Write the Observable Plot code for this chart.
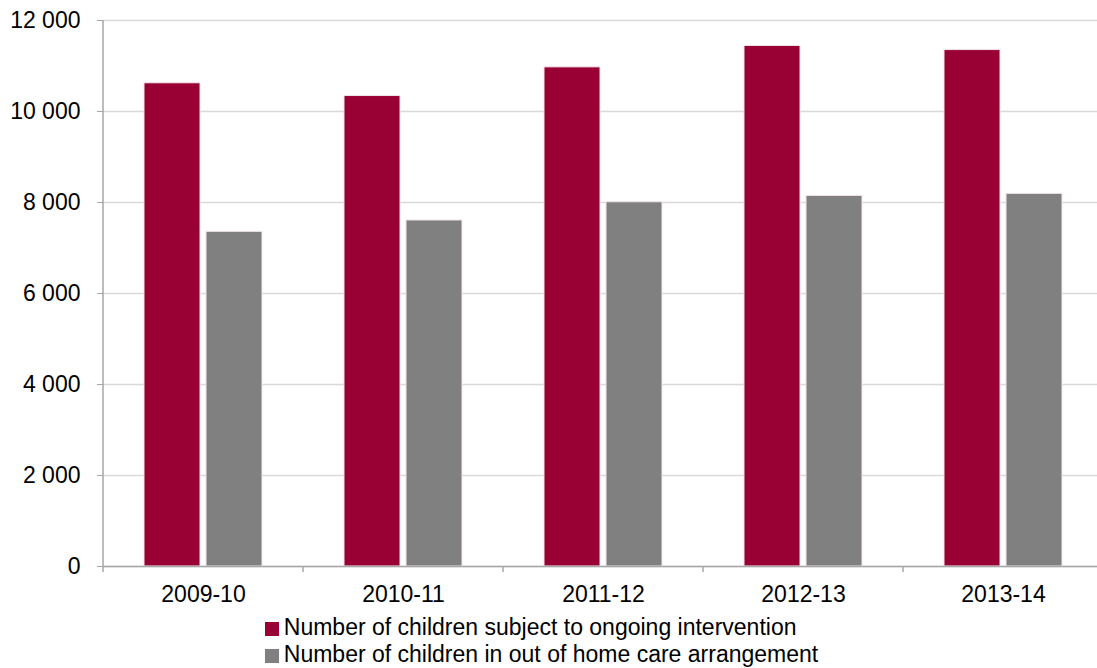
<!DOCTYPE html>
<html>
<head>
<meta charset="utf-8">
<script src="https://cdn.jsdelivr.net/npm/d3@7"></script>
<script src="https://cdn.jsdelivr.net/npm/@observablehq/plot@0.6"></script>
<style>
  html, body { margin: 0; background: #fff; font-family: "Liberation Sans", Arial, sans-serif; overflow: hidden; }
  #chart svg { max-width: none !important; }
  #legend { width: 1083px; text-align: center; margin-top: 8px; }
  #legend .box { display: inline-block; text-align: left; }
  #legend .row { font-size: 23px; line-height: 27px; color: #000; white-space: nowrap; }
  #legend .sw { display: inline-block; width: 14px; height: 14px; margin-right: 5px; vertical-align: -1px; }
</style>
</head>
<body>
<div id="chart"></div>
<div id="legend"><div class="box"></div></div>
<script>
const years = ["2009-10", "2010-11", "2011-12", "2012-13", "2013-14"];
const seriesNames = [
  "Number of children subject to ongoing intervention",
  "Number of children in out of home care arrangement"
];
const intervention = [10620, 10340, 10970, 11440, 11350];
const outOfHome = [7355, 7605, 8005, 8145, 8190];
const yTicks = [0, 2000, 4000, 6000, 8000, 10000, 12000];
const colors = ["#990033", "#808080"];

const data = years.flatMap((y, i) => [
  {year: y, series: seriesNames[0], value: intervention[i]},
  {year: y, series: seriesNames[1], value: outOfHome[i]}
]);

const fmt = d => d3.format(",")(d).replace(/,/g, " ");

const W = 1103;
const chart = Plot.plot({
  width: W,
  height: 606,
  marginLeft: 103,
  marginRight: 0,
  marginTop: 20,
  marginBottom: 40,
  style: {fontFamily: "'Liberation Sans', Arial, sans-serif", fontSize: "23px", color: "#000", background: "#fff", overflow: "visible", maxWidth: "none"},
  fx: {domain: years, padding: 0, label: null, axis: null},
  x: {domain: seriesNames, axis: null, paddingInner: 0.1, paddingOuter: 0.66},
  y: {domain: [0, 12000], label: null},
  color: {domain: seriesNames, range: colors},
  marks: [
    Plot.gridY(yTicks, {stroke: "#d9d9d9", strokeOpacity: 1, strokeWidth: 1.5}),
    Plot.barY(data, {fx: "year", x: "series", y: "value", fill: "series", stroke: "#f2e6ea", strokeWidth: 1}),
    Plot.ruleY([0], {stroke: "#a6a6a6", strokeWidth: 1.5}),
    Plot.axisY(yTicks, {tickSize: 6, tickPadding: 17, tickFormat: fmt, stroke: "#a6a6a6", label: null, fill: "#000"}),
    Plot.axisFx({anchor: "bottom", tickSize: 0, tickPadding: 19, label: null, fill: "#000"})
  ]
});

// axis decoration: y axis line and category boundary ticks
const svg = d3.select(chart);
const y0 = 20 + (606 - 20 - 40);
const left = 103;
svg.append("line")
  .attr("x1", left).attr("x2", left)
  .attr("y1", 20).attr("y2", y0 + 6)
  .attr("stroke", "#a6a6a6").attr("stroke-width", 1.5);
const step = (W - left) / years.length;
for (let i = 1; i <= years.length; i++) {
  const x = left + i * step;
  svg.append("line")
    .attr("x1", x).attr("x2", x)
    .attr("y1", y0).attr("y2", y0 + 6)
    .attr("stroke", "#a6a6a6").attr("stroke-width", 1.5);
}

document.getElementById("chart").appendChild(chart);

const box = document.querySelector("#legend .box");
seriesNames.forEach((s, i) => {
  const row = document.createElement("div");
  row.className = "row";
  const sw = document.createElement("span");
  sw.className = "sw";
  sw.style.background = colors[i];
  row.appendChild(sw);
  row.appendChild(document.createTextNode(s));
  box.appendChild(row);
});
</script>
</body>
</html>
